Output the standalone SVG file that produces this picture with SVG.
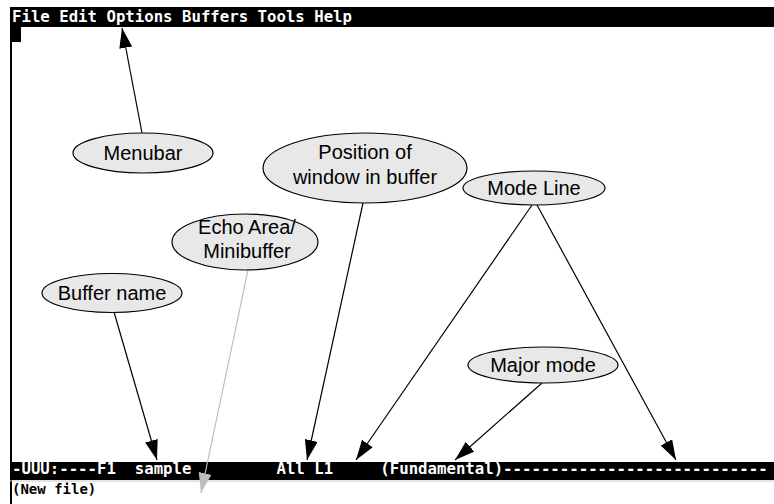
<svg xmlns="http://www.w3.org/2000/svg" width="774" height="504" viewBox="0 0 774 504">
<style>
.term{font-family:"DejaVu Sans Mono","Liberation Mono",monospace;font-weight:bold;font-size:15.7px;white-space:pre}
.small{font-size:14px}
.lbl{font-family:"Liberation Sans",Arial,sans-serif;font-size:20px;text-anchor:middle;fill:#000}
.node ellipse{fill:#e8e8e8;stroke:#000;stroke-width:1.2}
.edge{stroke:#000;stroke-width:1.2;fill:none;marker-end:url(#ah)}
.edge.gray{stroke:#bdbdbd;marker-end:url(#ahg)}
</style>
<defs>
<marker id="ah" markerUnits="userSpaceOnUse" markerWidth="22" markerHeight="14" refX="20" refY="6.5" orient="auto"><path d="M0,0 L20,6.5 L0,13 z" fill="#000"/></marker>
<marker id="ahg" markerUnits="userSpaceOnUse" markerWidth="22" markerHeight="14" refX="20" refY="6.5" orient="auto"><path d="M0,0 L20,6.5 L0,13 z" fill="#bdbdbd"/></marker>
</defs>
<rect width="774" height="504" fill="#fff"/>
<g id="screen">
<rect x="10" y="7" width="764" height="20" fill="#000"/>
<text class="term" x="12" y="22" fill="#fff">File Edit Options Buffers Tools Help</text>
<rect x="10" y="7" width="2" height="497" fill="#000"/>
<rect x="10" y="27" width="11" height="15" fill="#000"/>
<rect x="10" y="462" width="764" height="18" fill="#000"/>
<line x1="10" y1="481" x2="774" y2="481" stroke="#c8c8c8" stroke-width="1"/>
<text class="term" x="12" y="474" fill="#fff">-UUU:----F1  sample         All L1     (Fundamental)----------------------------</text>
<text class="term small" x="12" y="494" fill="#000">(New file)</text>
</g>
<g id="connectors">
<line class="edge" x1="142" y1="133" x2="122" y2="28"/>
<line class="edge" x1="114" y1="312" x2="157" y2="460"/>
<line class="edge gray" x1="248" y1="270" x2="201" y2="493"/>
<line class="edge" x1="363" y1="203" x2="307" y2="460"/>
<line class="edge" x1="532" y1="205" x2="356" y2="460"/>
<line class="edge" x1="537" y1="205" x2="676" y2="460"/>
<line class="edge" x1="542" y1="383" x2="455" y2="460"/>
</g>
<g id="menubar" class="node"><ellipse cx="143" cy="153" rx="70" ry="20"/><text class="lbl" x="143" y="160">Menubar</text></g>
<g id="position" class="node"><ellipse cx="365" cy="168" rx="102" ry="35"/><text class="lbl" x="365" y="159">Position of</text><text class="lbl" x="365" y="184">window in buffer</text></g>
<g id="modeline" class="node"><ellipse cx="534" cy="188" rx="71" ry="17"/><text class="lbl" x="534" y="195">Mode Line</text></g>
<g id="echo" class="node"><ellipse cx="245" cy="242" rx="73" ry="28"/><text class="lbl" x="247" y="234">Echo Area/</text><text class="lbl" x="247" y="258">Minibuffer</text></g>
<g id="buffername" class="node"><ellipse cx="112" cy="293" rx="70" ry="19.5"/><text class="lbl" x="112" y="300">Buffer name</text></g>
<g id="majormode" class="node"><ellipse cx="543" cy="365" rx="75" ry="18"/><text class="lbl" x="543" y="372">Major mode</text></g>
</svg>
